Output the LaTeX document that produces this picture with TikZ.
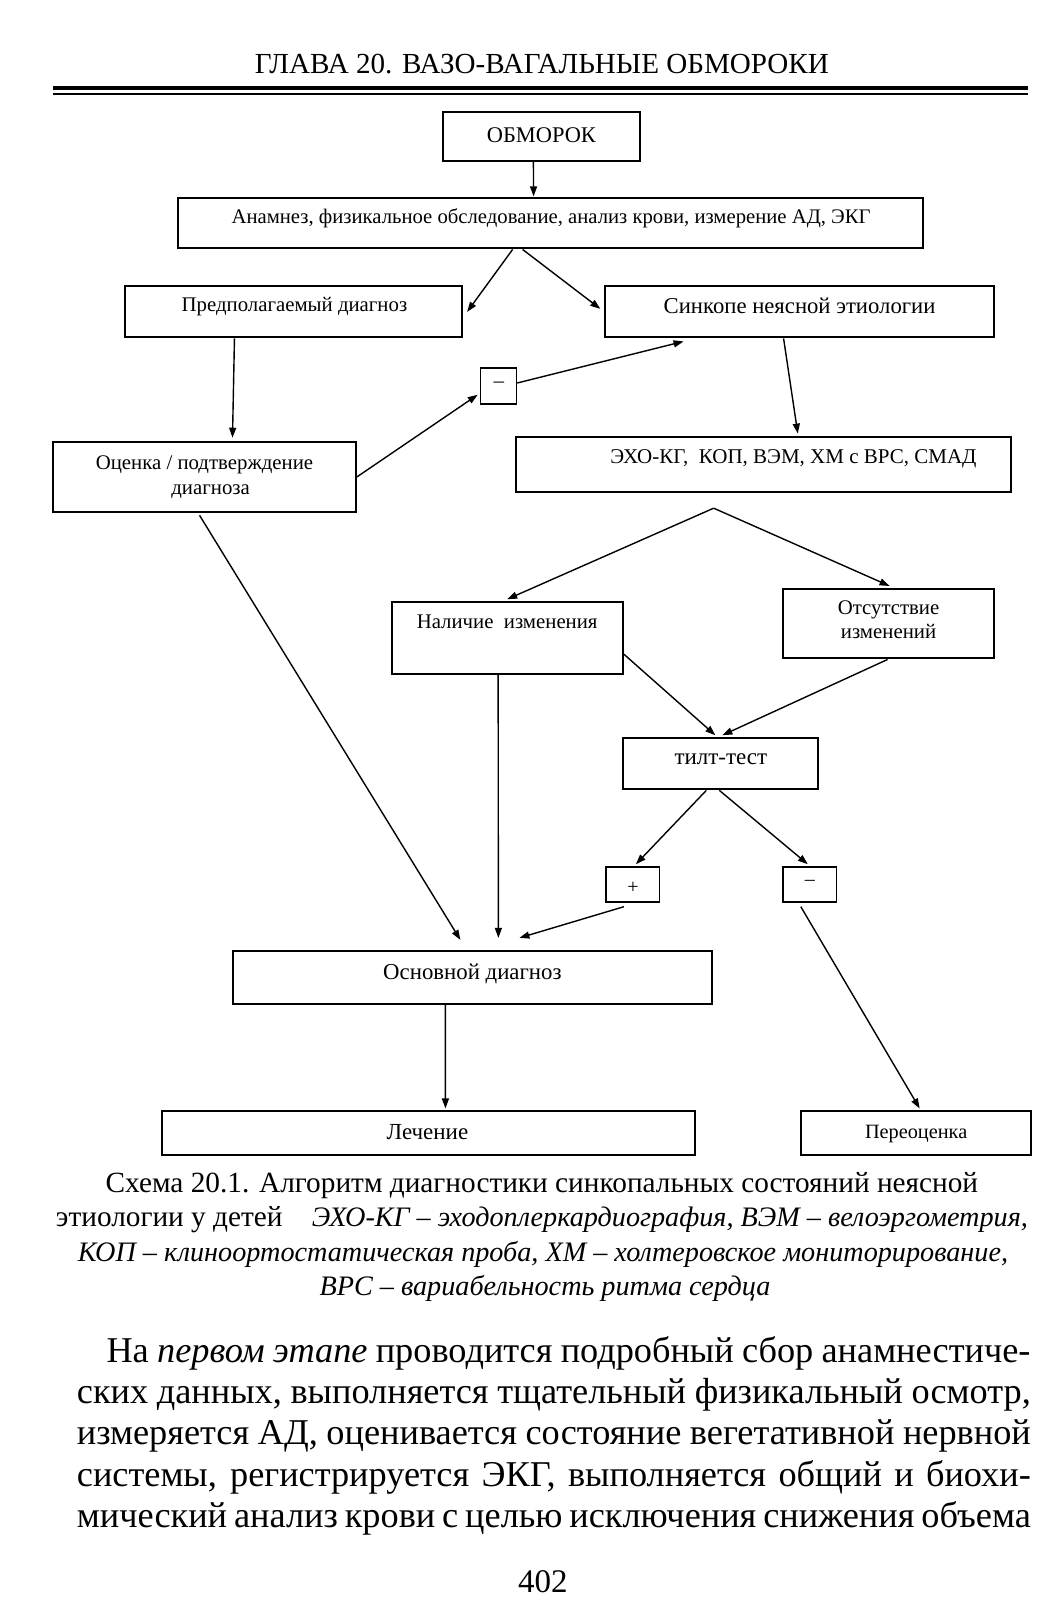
\documentclass[tikz,border=0pt]{standalone}
\usepackage{fontspec}
\setmainfont{Liberation Serif}
\usetikzlibrary{arrows.meta,fit}
\tikzset{
  box/.style={draw, line width=2pt, inner sep=0pt},
  sbox/.style={draw, line width=1.7pt, inner sep=0pt},
  txt/.style={inner sep=0pt, align=center, anchor=base},
  arr/.style={line width=1.4pt, -{Triangle[length=10pt,width=7pt]}},
  page/.style={inner sep=0pt, anchor=base},
}
\newcommand{\fs}[1]{\fontsize{#1}{#1}\selectfont}
\begin{document}
\begin{tikzpicture}[x=1.0225pt,y=-1.0225pt]
\useasboundingbox (0,0) rectangle (1038.6,1565.8);
\fill[white] (0,0) rectangle (1038.6,1565.8);
% header
\node[page, font=\fs{29.1}] (hdr) at (530,71.5) {ГЛАВА 20. ВАЗО-ВАГАЛЬНЫЕ ОБМОРОКИ};
\coordinate (rl) at (52,86);
\coordinate (rr) at (1005,86);
\draw[line width=3.3pt] (rl) -- (rr);
\draw[line width=1.4pt] ([yshift=-6pt]rl) -- ([yshift=-6pt]rr);
% boxes
\node[box, fit={(433,110) (626,157)}] (obm) {};
\node[txt, font=\fs{22.4}] (obmt) at (529.5,139) {ОБМОРОК};
\node[box, fit={(174,194) (903,243)}] (anam) {};
\node[txt, font=\fs{20.7}] (anamt) at (539,219) {Анамнез, физикальное обследование, анализ крови, измерение АД, ЭКГ};
\node[box, fit={(122,280) (452,330)}] (pred) {};
\node[txt, font=\fs{20.8}] (predt) at (288,305) {Предполагаемый диагноз};
\node[box, fit={(592,280) (972,330)}] (sink) {};
\node[txt, font=\fs{22.7}] (sinkt) at (782,307) {Синкопе неясной этиологии};
\node[sbox, fit={(470,360) (505,395)}] (m1) {};
\node[txt, font=\fs{21}] (m1t) at (488,379) {–};
\node[box, fit={(52,432) (348,501)}] (ocen) {};
\node[txt, font=\fs{20.8}] (ocent1) at (200,459) {Оценка / подтверждение};
\node[txt, font=\fs{20.8}] (ocent2) at (206,484) {диагноза};
\node[box, fit={(505,427) (989,481)}] (echo) {};
\node[txt, font=\fs{21}] (echot) at (776,453) {ЭХО-КГ, \ КОП, ВЭМ, ХМ с ВРС, СМАД};
\node[box, fit={(383,589) (609,659)}] (nal) {};
\node[txt, font=\fs{20.8}] (nalt) at (496,615) {Наличие \ изменения};
\node[box, fit={(766,576) (972,644)}] (ots) {};
\node[txt, font=\fs{20.8}] (otst1) at (869,601) {Отсутствие};
\node[txt, font=\fs{20.8}] (otst2) at (869,624) {изменений};
\node[box, fit={(609,722) (800,772)}] (tilt) {};
\node[txt, font=\fs{23}] (tiltt) at (705,748) {тилт-тест};
\node[sbox, fit={(593,848) (645,882)}] (plus) {};
\node[txt, font=\fs{20}] (plust) at (619,874) {+};
\node[sbox, fit={(766,848) (818,882)}] (m2) {};
\node[txt, font=\fs{20}] (m2t) at (792,866) {–};
\node[box, fit={(228,930) (696,982)}] (osn) {};
\node[txt, font=\fs{22.8}] (osnt) at (462,958) {Основной диагноз};
\node[box, fit={(158,1087) (680,1130)}] (lech) {};
\node[txt, font=\fs{23}] (lecht) at (418,1114) {Лечение};
\node[box, fit={(783,1087) (1008,1130)}] (pereo) {};
\node[txt, font=\fs{20.3}] (pereot) at (896,1113) {Переоценка};
% connectors
\draw[arr] ([xshift=-8pt]obm.south) -- ([xshift=-17pt,yshift=1pt]anam.north);
\draw[arr] ([xshift=-38pt]anam.south) -- ([xshift=4pt]pred.east);
\draw[arr] ([xshift=-28pt]anam.south) -- ([xshift=-4pt,yshift=3pt]sink.west);
\draw[arr] ([xshift=-59pt]pred.south) -- ([xshift=28pt,yshift=3pt]ocen.north);
\draw[arr] (ocen.east) -- ([xshift=-2pt,yshift=10pt]m1.south west);
\draw[arr] ([yshift=3pt]m1.east) -- ([xshift=-116pt,yshift=-3pt]sink.south);
\draw[arr] ([xshift=-16pt]sink.south) -- ([xshift=34pt,yshift=2pt]echo.north);
\coordinate (apex) at (698,497);
\draw[arr] (apex) -- ([yshift=2pt]nal.north);
\draw[arr] (apex) -- ([xshift=1pt,yshift=2pt]ots.north);
\draw[arr] ([yshift=-16pt]nal.east) -- ([xshift=-5pt,yshift=2pt]tilt.north);
\draw[arr] ([xshift=-1pt]ots.south) -- ([xshift=2pt,yshift=2pt]tilt.north);
\draw[arr] ([xshift=-9pt]nal.south) -- ([xshift=26pt,yshift=12pt]osn.north);
\draw[arr] ([xshift=-5pt,yshift=-2pt]ocen.south) -- ([xshift=-12pt,yshift=10pt]osn.north);
\draw[arr] ([xshift=-9pt,yshift=-4pt]plus.south) -- ([xshift=47pt,yshift=12pt]osn.north);
\draw[arr] ([xshift=-14pt]tilt.south) -- ([xshift=3pt,yshift=2pt]plus.north);
\draw[arr] ([xshift=-1pt]tilt.south) -- ([xshift=-2pt,yshift=2pt]m2.north);
\draw[arr] ([xshift=-9pt,yshift=-4pt]m2.south) -- ([xshift=4pt,yshift=2pt]pereo.north);
\draw[arr] ([xshift=-27pt]osn.south) -- ([xshift=17pt,yshift=2pt]lech.north);
% caption
\node[page, font=\fs{29.3}] (cap1) at (530,1166) {Схема 20.1. Алгоритм диагностики синкопальных состояний неясной};
\node[page, font=\fs{29.3}] (cap2) at (530,1200) {этиологии у детей \enspace\ {\itshape\fs{28.2}ЭХО-КГ – эходоплеркардиография, ВЭМ – велоэргометрия,}};
\node[page, font=\itshape\fs{28.2}] (cap3) at (531,1234) {КОП – клиноортостатическая проба, ХМ – холтеровское мониторирование,};
\node[page, font=\itshape\fs{28.2}] (cap4) at (533,1267) {ВРС – вариабельность ритма сердца};
% body text
\node[page, anchor=base west, font=\fs{36.3}] (b1) at (104,1333) {\makebox[924pt][s]{На \textit{первом этапе} проводится подробный сбор анамнестиче-}};
\node[page, anchor=base west, font=\fs{36.3}] (b2) at (75,1373) {\makebox[954pt][s]{ских данных, выполняется тщательный физикальный осмотр,}};
\node[page, anchor=base west, font=\fs{36.3}] (b3) at (75,1413) {\makebox[954pt][s]{измеряется АД, оценивается состояние вегетативной нервной}};
\node[page, anchor=base west, font=\fs{36.3}] (b4) at (75,1454) {\makebox[954pt][s]{системы, регистрируется ЭКГ, выполняется общий и биохи-}};
\node[page, anchor=base west, font=\fs{36.3}] (b5) at (75,1494) {\makebox[954pt][s]{мический анализ крови с целью исключения снижения объема}};
\node[page, font=\fs{33}] (pnum) at (531,1557) {402};
\end{tikzpicture}
\end{document}
